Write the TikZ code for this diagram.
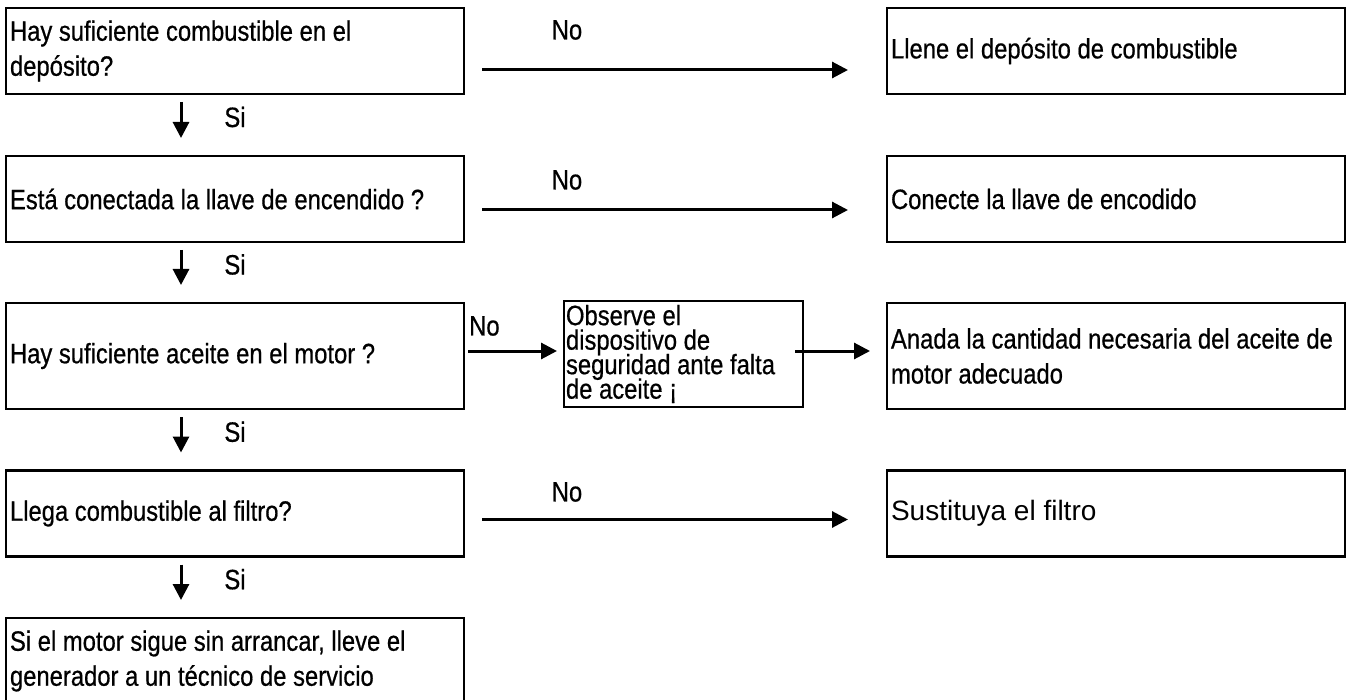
\documentclass[tikz,border=0pt]{standalone}
\usepackage{fontspec}
\setmainfont{Liberation Sans}[FakeStretch=0.85, FakeBold=0.6]
\newfontfamily\widefont{Liberation Sans}
\usetikzlibrary{arrows.meta, positioning}
\newcommand\tightskip{\lineskiplimit=-50pt\relax}

\begin{document}
\begin{tikzpicture}[x=1pt, y=-1pt,
    box/.style={draw, line width=2.2pt, inner xsep=4pt, inner ysep=0pt, outer sep=0pt,
        text width=450pt, minimum height=86pt, align=flush left,
        font=\fontsize{28}{35}\selectfont},
    tallbox/.style={box, minimum height=106pt},
    smallbox/.style={tallbox, text width=235pt, inner xsep=2pt,
        font={\fontsize{28}{24.5}\selectfont\tightskip}},
    arr/.style={line width=3pt, -{Triangle[length=16pt, width=16pt]}},
    lbl/.style={font=\fontsize{28}{35}\selectfont, inner sep=0pt}]
    \useasboundingbox (0,0) rectangle (1351,700);

    % ---------------- QUESTIONS (left column) ----------------
    \node[box] (q1) at (235,51) {Hay suficiente combustible en el\\dep\'osito?};
    \node[box] (q2) at (235,199) {Est\'a conectada la llave de encendido ?};
    \node[tallbox] (q3) at (235,356) {Hay suficiente aceite en el motor ?};
    \node[box] (q4) at (235,513.5) {Llega combustible al filtro?};
    \node[box] (q5) at (235,661) {Si el motor sigue sin arrancar, lleve el\\generador a un t\'ecnico de servicio};

    % ---------------- ACTIONS (right column) ----------------
    \node[box] (r1) at (1116,51) {Llene el dep\'osito de combustible};
    \node[box] (r2) at (1116,199) {Conecte la llave de encodido};
    \node[tallbox] (r3) at (1116,356) {Anada la cantidad necesaria del aceite de\\motor adecuado};
    \node[box] (r4) at (1116,513.5) {\widefont Sustituya el filtro};
    \node[smallbox] (obs) at (683.5,354) {Observe el\\dispositivo de\\seguridad ante falta\\de aceite ¡};

    % Si arrows
    \foreach \a/\b in {q1/q2, q2/q3, q3/q4, q4/q5}
        \draw[arr] ([xshift=-54pt,yshift=-8pt]\a.south) --
            node[lbl, xshift=54pt, yshift=3pt] {Si} ([xshift=-54pt,yshift=18pt]\b.north);

    % No arrows
    \node[lbl] (no1) at (567,30) {No};
    \node[lbl] (no2) at (567,180) {No};
    \node[lbl, anchor=west] (no3) at (469,326) {No};
    \node[lbl] (no4) at (567,492) {No};
    \draw[arr] ([xshift=18pt,yshift=-19pt]q1.east) -- ([xshift=-39pt,yshift=-19pt]r1.west);
    \draw[arr] ([xshift=18pt,yshift=-11pt]q2.east) -- ([xshift=-39pt,yshift=-11pt]r2.west);
    \draw[arr] ([xshift=4pt,yshift=5pt]q3.east) -- ([xshift=-7pt,yshift=3pt]obs.west);
    \draw[arr] ([xshift=-8pt,yshift=3pt]obs.east) -- ([xshift=-17pt,yshift=5pt]r3.west);
    \draw[arr] ([xshift=18pt,yshift=-6pt]q4.east) -- ([xshift=-39pt,yshift=-6pt]r4.west);
\end{tikzpicture}
\end{document}
